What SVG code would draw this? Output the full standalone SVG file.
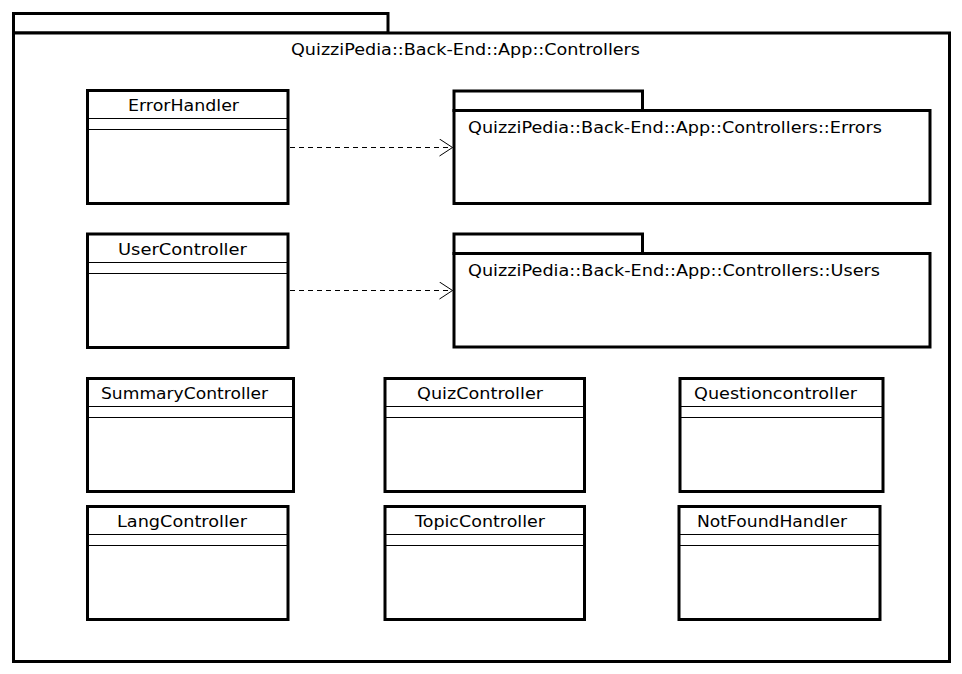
<svg xmlns="http://www.w3.org/2000/svg" width="962" height="674" viewBox="0 0 962 674">
<defs>
<style>
.b{fill:#fff;stroke:#000;stroke-width:3}
.d{stroke:#000;stroke-width:1;fill:none}
.t{font-family:"DejaVu Sans","Liberation Sans",sans-serif;font-size:15px;fill:#000}
.c{stroke:#000;stroke-width:1;fill:none;stroke-dasharray:5,4}
</style>
<marker id="open" markerWidth="16" markerHeight="20" refX="14" refY="9" orient="auto" markerUnits="userSpaceOnUse">
<path d="M1,0.5 L14,9 L1,17.5" fill="none" stroke="#000" stroke-width="1"/>
</marker>
</defs>
<rect width="962" height="674" fill="#fff"/>
<g id="pkg-controllers">
<rect class="b" x="13.5" y="13.5" width="374.5" height="19.5"/>
<rect class="b" x="13.5" y="33" width="936" height="628.5"/>
<text class="t" x="291" y="55" textLength="349" lengthAdjust="spacingAndGlyphs">QuizziPedia::Back-End::App::Controllers</text>
</g>
<g id="pkg-errors">
<rect class="b" x="454" y="91" width="188.5" height="19.5"/>
<rect class="b" x="454" y="110.5" width="476" height="93"/>
<text class="t" x="468" y="133" textLength="414" lengthAdjust="spacingAndGlyphs">QuizziPedia::Back-End::App::Controllers::Errors</text>
</g>
<g id="pkg-users">
<rect class="b" x="454" y="234" width="188.5" height="19.5"/>
<rect class="b" x="454" y="253.5" width="476" height="93.5"/>
<text class="t" x="468" y="276" textLength="412" lengthAdjust="spacingAndGlyphs">QuizziPedia::Back-End::App::Controllers::Users</text>
</g>
<g id="ErrorHandler">
<rect class="b" x="87.5" y="90.5" width="200.5" height="113"/>
<line class="d" x1="87" y1="118.5" x2="288" y2="118.5"/>
<line class="d" x1="87" y1="129.5" x2="288" y2="129.5"/>
<text class="t" x="128" y="111" textLength="111" lengthAdjust="spacingAndGlyphs">ErrorHandler</text>
</g>
<g id="UserController">
<rect class="b" x="87.5" y="234" width="200.5" height="113.5"/>
<line class="d" x1="87" y1="262.5" x2="288" y2="262.5"/>
<line class="d" x1="87" y1="273.5" x2="288" y2="273.5"/>
<text class="t" x="118" y="255" textLength="129" lengthAdjust="spacingAndGlyphs">UserController</text>
</g>
<g id="SummaryController">
<rect class="b" x="87.5" y="378.5" width="206" height="113"/>
<line class="d" x1="87" y1="406.5" x2="293" y2="406.5"/>
<line class="d" x1="87" y1="417.5" x2="293" y2="417.5"/>
<text class="t" x="101" y="399" textLength="167" lengthAdjust="spacingAndGlyphs">SummaryController</text>
</g>
<g id="QuizController">
<rect class="b" x="385" y="378.5" width="199.5" height="113"/>
<line class="d" x1="385" y1="406.5" x2="584" y2="406.5"/>
<line class="d" x1="385" y1="417.5" x2="584" y2="417.5"/>
<text class="t" x="417" y="399" textLength="126" lengthAdjust="spacingAndGlyphs">QuizController</text>
</g>
<g id="Questioncontroller">
<rect class="b" x="680" y="378.5" width="203" height="113"/>
<line class="d" x1="680" y1="406.5" x2="883" y2="406.5"/>
<line class="d" x1="680" y1="417.5" x2="883" y2="417.5"/>
<text class="t" x="694" y="399" textLength="163" lengthAdjust="spacingAndGlyphs">Questioncontroller</text>
</g>
<g id="LangController">
<rect class="b" x="87.5" y="506.5" width="200.5" height="113"/>
<line class="d" x1="87" y1="534.5" x2="288" y2="534.5"/>
<line class="d" x1="87" y1="545.5" x2="288" y2="545.5"/>
<text class="t" x="117" y="527" textLength="130" lengthAdjust="spacingAndGlyphs">LangController</text>
</g>
<g id="TopicController">
<rect class="b" x="385" y="506.5" width="199.5" height="113"/>
<line class="d" x1="385" y1="534.5" x2="584" y2="534.5"/>
<line class="d" x1="385" y1="545.5" x2="584" y2="545.5"/>
<text class="t" x="415" y="527" textLength="130" lengthAdjust="spacingAndGlyphs">TopicController</text>
</g>
<g id="NotFoundHandler">
<rect class="b" x="679" y="506.5" width="201" height="113"/>
<line class="d" x1="679" y1="534.5" x2="880" y2="534.5"/>
<line class="d" x1="679" y1="545.5" x2="880" y2="545.5"/>
<text class="t" x="697" y="527" textLength="150" lengthAdjust="spacingAndGlyphs">NotFoundHandler</text>
</g>
<g id="connectors">
<line class="c" x1="290" y1="147.5" x2="452.5" y2="147.5" marker-end="url(#open)"/>
<line class="c" x1="290" y1="290.5" x2="452.5" y2="290.5" marker-end="url(#open)"/>
</g>
</svg>
